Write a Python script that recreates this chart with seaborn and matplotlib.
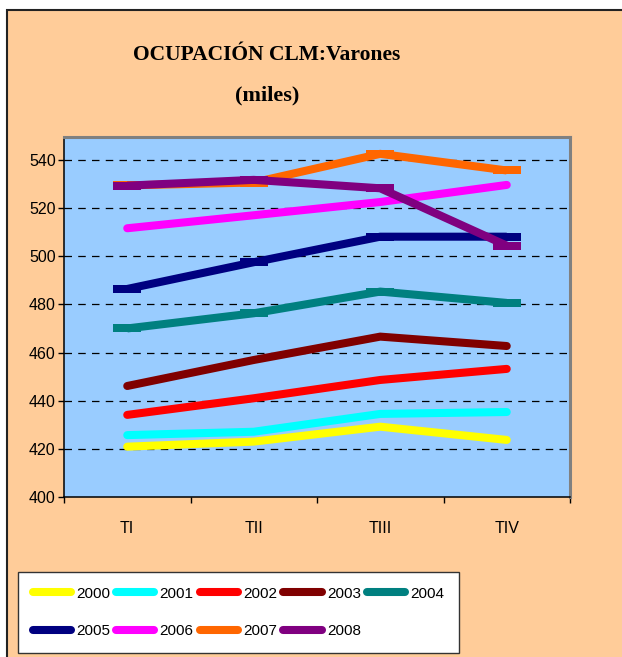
import pandas as pd
import matplotlib.pyplot as plt
import matplotlib.patches as mpatches
from matplotlib.lines import Line2D
from matplotlib.ticker import FixedLocator
import seaborn as sns
import numpy as np

# Datos (miles)
trimestres = ['TI', 'TII', 'TIII', 'TIV']
anios = ['2000', '2001', '2002', '2003', '2004', '2005', '2006', '2007', '2008']
v2000 = [420.9, 423.0, 429.2, 423.7]
v2001 = [425.7, 427.1, 434.5, 435.3]
v2002 = [434.1, 441.0, 448.6, 453.2]
v2003 = [446.1, 456.9, 466.6, 462.7]
v2004 = [470.0, 476.3, 485.3, 480.6]
v2005 = [486.4, 497.5, 508.1, 508.1]
v2006 = [511.6, 517.0, 522.5, 529.6]
v2007 = [529.4, 530.6, 542.5, 535.6]
v2008 = [529.3, 531.7, 528.2, 504.4]
colores = ['#FFFF00', '#00FFFF', '#FF0000', '#800000', '#008080',
           '#000080', '#FF00FF', '#FF6600', '#800080']
con_marcador = ['2004', '2005', '2007', '2008']

valores = [v2000, v2001, v2002, v2003, v2004, v2005, v2006, v2007, v2008]
df = pd.DataFrame({
    'trimestre': trimestres * len(anios),
    'miles': np.concatenate(valores),
    'anio': np.repeat(anios, len(trimestres)),
})

sns.set_style('white')
plt.rcParams['font.family'] = ['Liberation Sans', 'DejaVu Sans']
plt.rcParams['text.color'] = 'black'
plt.rcParams['xtick.color'] = 'black'
plt.rcParams['ytick.color'] = 'black'

fig = plt.figure(figsize=(6.22, 6.57), dpi=100)
fig.patch.set_facecolor('white')
# fondo del area del grafico (recortado a la derecha y abajo)
fig.patches.append(mpatches.Rectangle((7 / 622, -0.05), 1.1, 1 - 10 / 657 + 0.05,
                                      transform=fig.transFigure, facecolor='#FFCC99',
                                      edgecolor='#222222', linewidth=1.5, zorder=-5))

ax = fig.add_axes([64 / 622, 1 - 497 / 657, 506 / 622, 360 / 657])
ax.set_zorder(2)
ax.set_facecolor('#99CCFF')

sns.lineplot(data=df, x='trimestre', y='miles', hue='anio', palette=colores,
             linewidth=5.8, legend=False, sort=False, ax=ax)

rect = [(-1, -0.3), (1, -0.3), (1, 0.3), (-1, 0.3), (-1, -0.3)]
for linea, anio in zip(ax.lines, anios):
    linea.set_zorder(3)
    if anio in con_marcador:
        linea.set_solid_capstyle('butt')
        linea.set_marker(rect)
        linea.set_markersize(19.5)
        linea.set_markeredgewidth(0)
        linea.set_markerfacecolor(linea.get_color())
    else:
        linea.set_solid_capstyle('round')
    linea.set_solid_joinstyle('miter')

ax.set_xlim(-0.5, 3.5)
ax.set_ylim(400, 549.5)
ax.set_yticks(np.arange(400, 541, 20))
for y in np.arange(420, 541, 20):
    ax.axhline(y, color='black', linewidth=0.9, linestyle=(0, (6, 5)), zorder=1)

ax.set_xticks(range(4))
ax.set_xticklabels(trimestres)
ax.xaxis.set_minor_locator(FixedLocator([-0.5, 0.5, 1.5, 2.5, 3.5]))
ax.tick_params(axis='x', which='major', length=0, pad=17, labelsize=11.5)
ax.tick_params(axis='x', which='minor', bottom=True, length=4.3, width=1, color='black', direction='out')
ax.tick_params(axis='y', left=True, length=4, width=1, color='black', direction='out', pad=2, labelsize=11.5)
ax.set_xlabel('')
ax.set_ylabel('')

for lado in ['top', 'right']:
    ax.spines[lado].set_color('#808080')
    ax.spines[lado].set_linewidth(2.2)
for lado in ['left', 'bottom']:
    ax.spines[lado].set_color('black')
    ax.spines[lado].set_linewidth(1.1)

fig.text(267 / 622, 1 - 55 / 657, 'OCUPACIÓN CLM:Varones', ha='center', va='center',
         fontsize=15.5, fontweight='bold', family=['Liberation Serif', 'DejaVu Serif'])
fig.text(267 / 622, 1 - 95 / 657, '(miles)', ha='center', va='center',
         fontsize=16, fontweight='bold', family=['Liberation Serif', 'DejaVu Serif'])

# la leyenda se llena por columnas: reordenar para que quede por filas
orden = [0, 5, 1, 6, 2, 7, 3, 8, 4]
manijas = [Line2D([0], [0], color=colores[i], linewidth=5.8, solid_capstyle='round') for i in orden]
etiquetas = [anios[i] for i in orden]
leg = fig.legend(manijas, etiquetas, loc='upper left', bbox_to_anchor=(18 / 622, 1 - 572 / 657),
                 ncol=5, frameon=True, fancybox=False, fontsize=11, handlelength=2.5,
                 handletextpad=0.35, columnspacing=0.4, borderpad=0.95, labelspacing=1.55,
                 borderaxespad=0)
leg.get_frame().set_edgecolor('#333333')
leg.get_frame().set_linewidth(1)
leg.get_frame().set_facecolor('white')
leg.get_frame().set_alpha(1)

plt.savefig('out.png', dpi=100)
